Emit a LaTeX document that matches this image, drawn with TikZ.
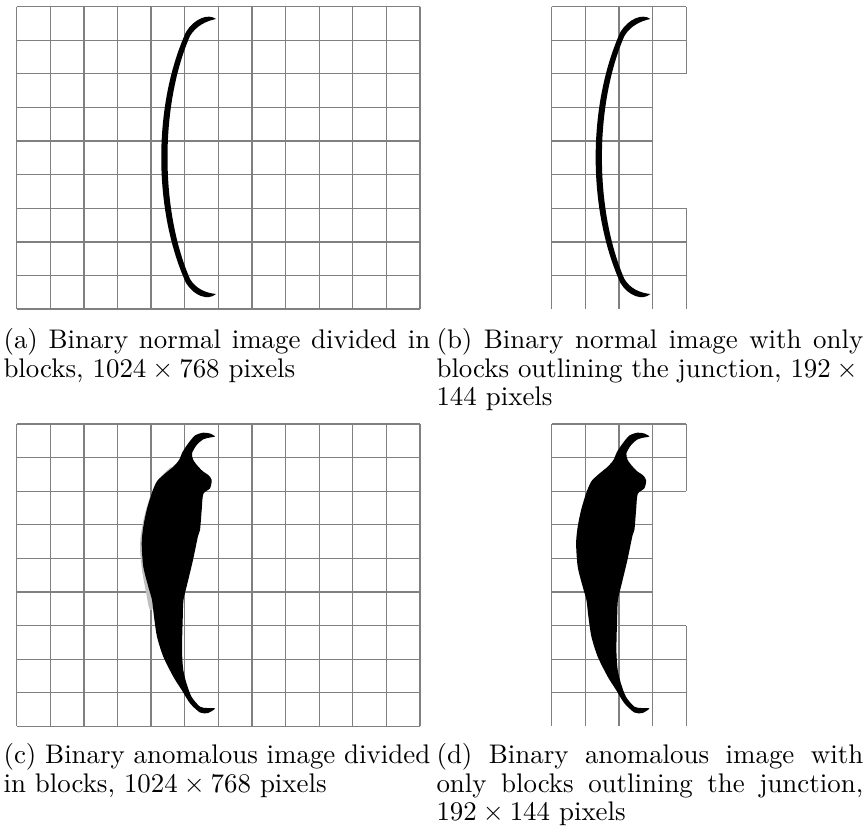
\documentclass[tikz,border=0pt]{standalone}
\begin{document}
\begin{tikzpicture}[x=0.3717pt, y=-0.3717pt]
\tikzset{
  gridline/.style={draw=black!50, line width=0.45pt},
  capbox/.style={anchor=north west, inner sep=0pt, text width=158.6pt, align=justify,
                 font=\fontsize{10}{10.6}\selectfont},
  crescent/.pic={
    \fill[black] (216,19) .. controls (208,13) and (194,19) .. (186,32)
      .. controls (153,105) and (153,210) .. (186,283)
      .. controls (194,296) and (208,301) .. (216,294)
      .. controls (206,293) and (196,289) .. (190,279)
      .. controls (160,210) and (160,105) .. (190,36)
      .. controls (196,26) and (206,21) .. (216,19) -- cycle;
  },
  blobshape/.pic={
    \fill[black] plot[smooth cycle, tension=0.45] coordinates {
      (215,436.5) (210,433.5) (203,432.7) (195,435.5) (188.3,443.3) (182.7,451.7)
      (179,460) (173.3,466.7) (163.3,475) (156.7,481.7) (151.7,493.3) (146.7,510)
      (143.3,526.7) (141.7,543.3) (143.3,566.7) (148.3,586.7) (152,600) (154,616.7)
      (157,636.7) (163.3,656.7) (173.3,676.7) (181.7,690) (190,703.3) (200,712.5)
      (208,713) (215,708.5)
      (207,708) (200,706.7) (191.7,697) (186.7,684) (183.3,670) (182,650)
      (182.7,620) (183.5,600) (187,585) (193,560) (198,536) (200,530) (201.7,510)
      (203.3,494) (210,488.3) (211.7,480) (208.3,475) (203.3,471.7) (198.3,466.7)
      (193.3,460) (192,453.3) (196.7,445) (203.3,439.3) (210,437.5)};
  }
}
\useasboundingbox (0,0) rectangle (864,834);

% ---- (a) full grid ----
\foreach \i in {0,...,12} \draw[gridline] (16.7+33.6*\i,6.7) -- (16.7+33.6*\i,309.1);
\foreach \j in {0,...,9} \draw[gridline] (16.7,6.7+33.6*\j) -- (419.9,6.7+33.6*\j);
\pic at (0,0) {crescent};

% ---- (b) partial grid ----
\foreach \i in {0,...,3} \draw[gridline] (551.7+33.6*\i,6.7) -- (551.7+33.6*\i,309.1);
\draw[gridline] (686.1,6.7) -- (686.1,73.9);
\draw[gridline] (686.1,208.3) -- (686.1,309.1);
\foreach \j in {0,1,2,6,7,8} \draw[gridline] (551.7,6.7+33.6*\j) -- (686.1,6.7+33.6*\j);
\foreach \j in {3,4,5} \draw[gridline] (551.7,6.7+33.6*\j) -- (652.5,6.7+33.6*\j);
\pic at (434.4,0) {crescent};

% ---- (c) full grid ----
\foreach \i in {0,...,12} \draw[gridline] (16.7+33.6*\i,424) -- (16.7+33.6*\i,726.4);
\foreach \j in {0,...,9} \draw[gridline] (16.7,424+33.6*\j) -- (419.9,424+33.6*\j);
\fill[black!25] plot[smooth cycle, tension=0.5] coordinates {
  (172,467) (160,478) (150,497) (143,522) (140,545) (142,570) (146,592) (150,610)
  (156,600) (152,560) (152,520) (160,490)};
\pic at (0,0) {blobshape};

% ---- (d) partial grid ----
\foreach \i in {0,...,3} \draw[gridline] (551.7+33.6*\i,424) -- (551.7+33.6*\i,726.4);
\draw[gridline] (686.1,424) -- (686.1,491.2);
\draw[gridline] (686.1,625.6) -- (686.1,726.4);
\foreach \j in {0,1,2,6,7,8} \draw[gridline] (551.7,424+33.6*\j) -- (686.1,424+33.6*\j);
\foreach \j in {3,4,5} \draw[gridline] (551.7,424+33.6*\j) -- (652.5,424+33.6*\j);
\pic at (434.4,0) {blobshape};

% ---- captions ----
\node[capbox] (capa) at (3,328) {(a) Binary normal image divided in blocks, $1024 \times 768$ pixels};
\node[capbox] (capb) at (436,328) {(b) Binary normal image with only blocks outlining the junction, $192 \times{}$\linebreak $144$ pixels};
\node[capbox] (capc) at (3,743) {(c) Binary anomalous image divided in blocks, $1024 \times 768$ pixels};
\node[capbox] (capd) at (436,743) {(d) Binary anomalous image with only blocks outlining the junction, $192 \times 144$ pixels};
\end{tikzpicture}
\end{document}
